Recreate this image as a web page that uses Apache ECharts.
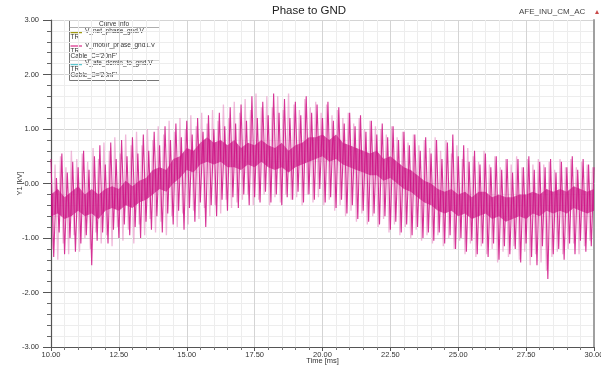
<!DOCTYPE html>
<html>
<head>
<meta charset="utf-8">
<script src="https://cdn.jsdelivr.net/npm/echarts@6/dist/echarts.min.js"></script>
<style>
  html, body { margin: 0; padding: 0; background: #fff; }
  #chart { width: 601px; height: 366px; }
</style>
</head>
<body>
<div id="chart"></div>
<script>
// time axis (ms) and voltage axis (kV)
const timeMin = 10;
const timeMax = 30;
const voltMin = -3;
const voltMax = 3;

// V_motor_phase_gnd1.V, strong spikes, one sample every 0.1 ms from 10 ms
const spikeStartMs = 10;
const spikeStepMs = 0.1;
const motorSpikes = [
  0.45, -1.35, 0.1, -0.9, 0.55, -1.3, 0.2, -1.0, 0.4, -1.25,
  0.3, -1.1, 0.6, -0.95, 0.25, -1.5, 0.5, -1.05, 0.7, -0.9,
  0.35, -1.1, 0.75, -0.85, 0.45, -1.0, 0.8, -0.75, 0.5, -0.95,
  0.85, -0.8, 0.55, -1.0, 0.9, -0.7, 0.6, -0.85, 0.95, -0.6,
  0.7, -0.9, 1.05, -0.55, 0.8, -0.75, 1.1, -0.5, 0.85, -0.85,
  1.15, -0.45, 0.9, -0.7, 1.2, -0.35, 0.95, -0.8, 1.25, -0.4,
  1.0, -0.6, 1.3, -0.3, 1.05, -0.5, 1.4, -0.25, 1.1, -0.45,
  1.45, -0.2, 1.15, -0.4, 1.6, -0.25, 1.2, -0.35, 1.5, -0.15,
  1.25, -0.35, 1.65, -0.2, 1.3, -0.4, 1.55, -0.25, 1.2, -0.3,
  1.5, -0.15, 1.25, -0.35, 1.6, -0.2, 1.3, -0.3, 1.45, -0.1,
  1.2, -0.35, 1.5, -0.25, 1.15, -0.45, 1.4, -0.3, 1.1, -0.55,
  1.3, -0.4, 1.05, -0.65, 1.25, -0.5, 0.95, -0.7, 1.15, -0.55,
  0.9, -0.75, 1.1, -0.6, 0.85, -0.85, 1.05, -0.7, 0.8, -0.9,
  0.95, -0.75, 0.7, -0.95, 0.9, -0.8, 0.6, -1.0, 0.85, -0.9,
  0.55, -1.05, 0.8, -0.9, 0.45, -1.1, 0.75, -0.95, 0.9, -1.2,
  0.5, -1.0, 0.7, -1.25, 0.4, -1.05, 0.6, -1.3, 0.35, -1.1,
  0.55, -1.35, 0.3, -1.1, 0.5, -1.4, 0.25, -1.15, 0.45, -1.3,
  0.2, -1.2, 0.45, -1.45, 0.3, -1.1, 0.5, -1.35, 0.25, -1.5,
  0.4, -1.15, 0.3, -1.75, 0.45, -1.3, 0.2, -1.2, 0.4, -1.4,
  0.3, -1.1, 0.5, -1.3, 0.25, -1.05, 0.45, -1.25, 0.35, -1.15,
  0.3
];

// same trace, faint in-between spikes, one sample every 0.1 ms from 10.05 ms
const faintStartMs = 10.05;
const faintStepMs = 0.1;
const motorFaint = [
  -1.2, 0.35, -1.4, 0.5, -1.1, 0.3, -1.3, 0.6, -0.95, 0.45,
  -1.25, 0.55, -1.0, 0.4, -1.2, 0.65, -0.9, 0.45, -1.1, 0.75,
  -0.95, 0.6, -1.15, 0.85, -0.8, 0.55, -1.05, 0.9, -0.85, 0.7,
  -1.1, 0.95, -0.75, 0.7, -0.95, 1.0, -0.65, 0.8, -0.9, 1.05,
  -0.7, 0.9, -0.95, 1.15, -0.6, 0.95, -0.8, 1.2, -0.55, 1.0,
  -0.75, 1.25, -0.5, 1.05, -0.65, 1.3, -0.45, 1.1, -0.6, 1.35,
  -0.4, 1.15, -0.55, 1.45, -0.3, 1.2, -0.45, 1.5, -0.35, 1.3,
  -0.3, 1.55, -0.2, 1.35, -0.4, 1.65, -0.3, 1.4, -0.2, 1.6,
  -0.4, 1.4, -0.25, 1.6, -0.35, 1.35, -0.2, 1.65, -0.3, 1.45,
  -0.25, 1.35, -0.4, 1.55, -0.2, 1.4, -0.35, 1.5, -0.25, 1.3,
  -0.4, 1.45, -0.3, 1.25, -0.5, 1.35, -0.4, 1.2, -0.6, 1.3,
  -0.5, 1.1, -0.7, 1.2, -0.55, 1.0, -0.75, 1.15, -0.6, 1.05,
  -0.8, 1.0, -0.65, 0.9, -0.9, 1.05, -0.75, 0.85, -0.95, 0.95,
  -0.8, 0.75, -1.0, 0.9, -0.85, 0.7, -1.05, 0.8, -0.95, 0.65,
  -1.1, 0.85, -0.95, 0.6, -1.15, 0.8, -1.0, 0.55, -1.2, 0.7,
  -1.05, 0.45, -1.3, 0.65, -1.1, 0.5, -1.35, 0.4, -1.15, 0.6,
  -1.3, 0.35, -1.2, 0.5, -1.45, 0.3, -1.25, 0.45, -1.35, 0.35,
  -1.15, 0.5, -1.4, 0.3, -1.25, 0.45, -1.5, 0.35, -1.3, 0.45,
  -1.45, 0.35, -1.6, 0.4, -1.35, 0.25, -1.25, 0.45, -1.3, 0.3,
  -1.2, 0.45, -1.1, 0.3, -1.3, 0.4, -1.15, 0.35, -1.05, 0.3
];

// dense core of the same trace, edges every 0.25 ms from 10 ms
const bandStartMs = 10;
const bandStepMs = 0.25;
const bandUpper = [
  -0.2, -0.1, -0.25, -0.15, -0.05, -0.2, -0.1, -0.2, -0.1, -0.05,
  -0.1, 0.05, -0.05, 0.05, 0.1, 0.25, 0.3, 0.25, 0.45, 0.5,
  0.65, 0.6, 0.75, 0.85, 0.75, 0.8, 0.7, 0.8, 0.65, 0.75,
  0.7, 0.8, 0.7, 0.65, 0.75, 0.6, 0.7, 0.75, 0.85, 0.85,
  0.9, 0.8, 0.9, 0.75, 0.7, 0.65, 0.6, 0.55, 0.6, 0.45,
  0.5, 0.4, 0.3, 0.25, 0.15, 0.05, 0.0, -0.1, -0.15, -0.1,
  -0.2, -0.15, -0.25, -0.15, -0.15, -0.25, -0.2, -0.25, -0.25, -0.2,
  -0.2, -0.15, -0.2, -0.1, -0.15, -0.1, -0.15, -0.05, -0.1, -0.15,
  -0.1
];
const bandLower = [
  -0.6, -0.55, -0.65, -0.6, -0.5, -0.6, -0.55, -0.65, -0.5, -0.45,
  -0.5, -0.4, -0.45, -0.35, -0.3, -0.2, -0.1, -0.15, 0.0, 0.1,
  0.25, 0.2, 0.35, 0.4, 0.35, 0.4, 0.3, 0.3, 0.25, 0.35,
  0.3, 0.4, 0.3, 0.25, 0.3, 0.2, 0.3, 0.35, 0.4, 0.45,
  0.5, 0.4, 0.45, 0.35, 0.3, 0.25, 0.2, 0.15, 0.15, 0.05,
  0.1, 0.0, -0.1, -0.15, -0.25, -0.35, -0.4, -0.5, -0.55, -0.5,
  -0.6, -0.55, -0.65, -0.6, -0.55, -0.65, -0.6, -0.7, -0.65, -0.6,
  -0.65, -0.55, -0.6, -0.5, -0.55, -0.5, -0.55, -0.45, -0.5, -0.55,
  -0.5
];

// legend entries of the "Curve Info" box
const curveNames = ['V_net_phase_gnd.V', 'V_motor_phase_gnd1.V', 'V_afe_dcmin_to_gnd.V'];
const curveNotes = [['TR'], ['TR', "Cable_C='20nF'"], ['TR', "Cable_C='20nF'"]];
const curveColors = ['#a09a10', '#e0559f', '#5cc6cf'];

const spikeData = motorSpikes.map((v, i) => [spikeStartMs + i * spikeStepMs, v]);
const faintData = motorFaint.map((v, i) => [faintStartMs + i * faintStepMs, v]);
const bandTimes = bandUpper.map((v, i) => bandStartMs + i * bandStepMs);

const chart = echarts.init(document.getElementById('chart'), null, { renderer: 'canvas' });

const fontFamily = 'Liberation Sans, Arial, sans-serif';
const labelFont = { fontFamily: fontFamily, fontSize: 7.5, color: '#333' };

// core band drawn as one polygon through the axis scales
function renderBand(params, api) {
  const top = bandTimes.map((t, i) => api.coord([t, bandUpper[i]]));
  const bottom = bandTimes.map((t, i) => api.coord([t, bandLower[i]])).reverse();
  return {
    type: 'polygon',
    shape: { points: top.concat(bottom) },
    style: { fill: '#c4047c', opacity: 0.72 }
  };
}

// legend box: name row of each entry inside the 90x60 box
const entryRows = [11.5, 25, 43.5];
const legendChildren = [
  { type: 'rect', shape: { x: 0.5, y: 0.5, width: 90, height: 60 }, style: { fill: '#fff', stroke: '#777', lineWidth: 1 } },
  { type: 'text', style: { x: 45, y: 3.8, text: 'Curve Info', fontSize: 6.5, fontFamily: fontFamily, fill: '#333', align: 'center', verticalAlign: 'middle' } },
  { type: 'line', shape: { x1: 0.5, y1: 7.5, x2: 90.5, y2: 7.5 }, style: { stroke: '#999', lineWidth: 0.8 } },
  { type: 'line', shape: { x1: 0.5, y1: 40.5, x2: 90.5, y2: 40.5 }, style: { stroke: '#bbb', lineWidth: 0.6 } }
];
curveNames.forEach((name, k) => {
  const y = entryRows[k];
  legendChildren.push(
    { type: 'line', shape: { x1: 1.5, y1: y + 1, x2: 13, y2: y + 1 }, style: { stroke: curveColors[k], lineWidth: 1.5 } },
    { type: 'text', style: { x: 16, y: y, text: name, fontSize: 6.5, fontFamily: fontFamily, fill: '#333', verticalAlign: 'middle' } }
  );
  curveNotes[k].forEach((note, j) => {
    legendChildren.push({ type: 'text', style: { x: 1.5, y: y + 5.8 + j * 5.6, text: note, fontSize: 6.5, fontFamily: fontFamily, fill: '#333', verticalAlign: 'middle' } });
  });
});

const option = {
  backgroundColor: '#fff',
  animation: false,
  title: [
    { text: 'Phase to GND', left: 272, top: 5, padding: 0, textStyle: { fontFamily: fontFamily, fontSize: 11.5, fontWeight: 'normal', color: '#222' } },
    { text: 'AFE_INU_CM_AC', left: 519, top: 8, padding: 0, textStyle: { fontFamily: fontFamily, fontSize: 8, fontWeight: 'normal', color: '#444' } }
  ],
  grid: { left: 51, right: 7, top: 20, bottom: 19, containLabel: false, outerBoundsMode: 'none' },
  xAxis: [
    {
      type: 'value', min: timeMin, max: timeMax, interval: 2.5,
      name: 'Time [ms]', nameLocation: 'middle', nameGap: 10, nameMoveOverlap: false,
      nameTextStyle: labelFont,
      axisLine: { show: true, onZero: false, lineStyle: { color: '#555', width: 1.2 } },
      axisTick: { show: true, length: 4, lineStyle: { color: '#555' } },
      minorTick: { show: true, splitNumber: 5, length: 3, lineStyle: { color: '#777' } },
      axisLabel: Object.assign({ formatter: v => v.toFixed(2), margin: 4 }, labelFont),
      splitLine: { show: true, lineStyle: { color: '#d4d4d4', width: 1 } },
      minorSplitLine: { show: true, lineStyle: { color: '#ededed', width: 1 } }
    },
    {
      type: 'value', min: timeMin, max: timeMax, position: 'top',
      axisLine: { show: true, lineStyle: { color: '#cfcfcf' } },
      axisTick: { show: false }, axisLabel: { show: false }, splitLine: { show: false }
    }
  ],
  yAxis: [
    {
      type: 'value', min: voltMin, max: voltMax, interval: 1,
      name: 'Y1 [kV]', nameLocation: 'middle', nameGap: 27, nameRotate: 90, nameMoveOverlap: false,
      nameTextStyle: labelFont,
      axisLine: { show: true, onZero: false, lineStyle: { color: '#555', width: 1.2 } },
      axisTick: { show: true, length: 8, lineStyle: { color: '#555' } },
      minorTick: { show: true, splitNumber: 5, length: 4, lineStyle: { color: '#666' } },
      axisLabel: Object.assign({ formatter: v => v.toFixed(2), margin: 12 }, labelFont),
      splitLine: { show: true, lineStyle: { color: '#d4d4d4', width: 1 } },
      minorSplitLine: { show: true, lineStyle: { color: '#ededed', width: 1 } }
    },
    {
      type: 'value', min: voltMin, max: voltMax, position: 'right',
      axisLine: { show: true, lineStyle: { color: '#a0a0a0', width: 2 } },
      axisTick: { show: false }, axisLabel: { show: false }, splitLine: { show: false }
    }
  ],
  series: [
    {
      name: 'V_motor_phase_gnd1.V faint', type: 'line', data: faintData,
      showSymbol: false, symbol: 'none', silent: true,
      lineStyle: { color: '#e173b5', width: 1.3, opacity: 0.5 }
    },
    {
      name: 'V_motor_phase_gnd1.V', type: 'line', data: spikeData,
      showSymbol: false, symbol: 'none', silent: true,
      lineStyle: { color: '#cf0f84', width: 1.1, opacity: 0.85 }
    },
    {
      name: 'core', type: 'custom', coordinateSystem: 'cartesian2d',
      data: [[timeMin, 0]], renderItem: renderBand, silent: true, clip: true
    }
  ],
  graphic: [
    { type: 'group', left: 67, top: 20, children: legendChildren },
    { type: 'polygon', left: 595, top: 10, shape: { points: [[2, 0], [4, 4], [0, 4]] }, style: { fill: '#c94a4a' } }
  ]
};

chart.setOption(option);
</script>
</body>
</html>
